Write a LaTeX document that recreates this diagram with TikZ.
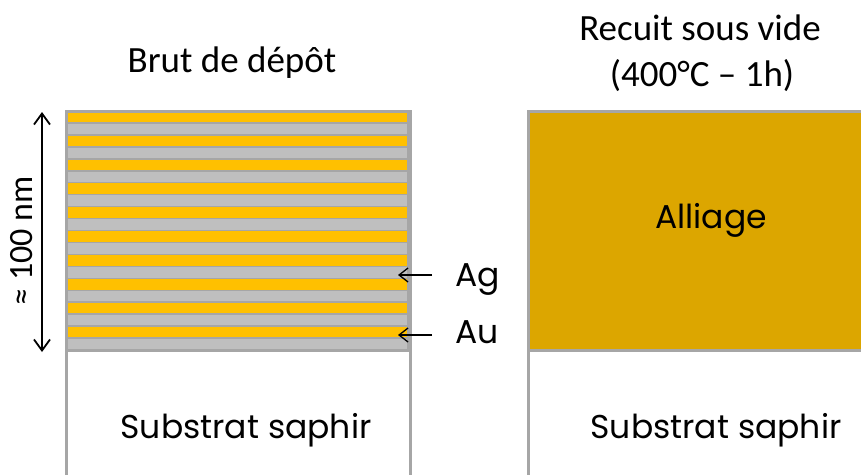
\documentclass[tikz,border=0pt]{standalone}
\usepackage{fontspec}
\setmainfont{Poppins}
\newfontfamily\calib{Carlito}
\usetikzlibrary{arrows.meta}
\definecolor{auyel}{HTML}{FFC000}
\definecolor{aggray}{HTML}{BFBFBF}
\definecolor{edgegray}{HTML}{A6A6A6}
\definecolor{alloy}{HTML}{DCA600}
\tikzset{
  layer/.style={draw=edgegray, line width=1.5pt},
  border/.style={draw=edgegray, line width=3pt},
  lbl/.style={font=\fontsize{33}{38}\selectfont, anchor=base, inner sep=0pt},
  ttl/.style={font=\calib\fontsize{37}{44}\selectfont, anchor=base, inner sep=0pt},
  ptr/.style={line width=1.3pt, -{Straight Barb[length=9pt,width=14pt]}},
  dim/.style={line width=1.8pt, {Straight Barb[length=11pt,width=16pt]}-{Straight Barb[length=11pt,width=16pt]}}
}
\begin{document}
\begin{tikzpicture}[x=1pt,y=-1pt]
\useasboundingbox (0,0) rectangle (861,475);
% left stack
\foreach \i in {0,...,9}{
  \pgfmathsetmacro{\ya}{111+2*\i*11.95}
  \pgfmathsetmacro{\yb}{\ya+11.95}
  \pgfmathsetmacro{\yc}{\yb+11.95}
  \filldraw[layer, fill=auyel] (67,\ya) rectangle (408,\yb);
  \filldraw[layer, fill=aggray] (67,\yb) rectangle (408,\yc);
}
\draw[border] (66,475) -- (66,111) -- (410,111) -- (410,475);
\draw[border] (66,350) -- (410,350);
% right
\filldraw[border, fill=alloy] (528,111) rectangle (880,350);
\draw[border] (528,350) -- (528,475);
% titles
\node[ttl] (t1) at (232,72) {Brut de dépôt};
\node[ttl] (t2) at (700,40) {Recuit sous vide};
\node[ttl] (t3) at (702,86) {(400°C – 1h)};
% labels
\node[lbl] (all) at (711,228) {Alliage};
\node[lbl] (s1) at (246,438) {Substrat saphir};
\node[lbl] (s2) at (716,438) {Substrat saphir};
\node[lbl, anchor=base west] (ag) at (455,286) {Ag};
\node[lbl, anchor=base west] (au) at (455,343) {Au};
% pointers
\coordinate (agt) at (432,275);
\coordinate (agh) at (398,275);
\coordinate (aut) at (432,335);
\coordinate (auh) at (398,335);
\draw[ptr] (agt) -- (agh);
\draw[ptr] (aut) -- (auh);
% dimension
\coordinate (d1) at (42,112);
\coordinate (d2) at (42,352);
\draw[dim] (d1) -- (d2);
\node[font=\calib\fontsize{34}{40}\selectfont, rotate=90, inner sep=0pt] (dl) at (22,241) {≈ 100 nm};
\end{tikzpicture}
\end{document}
